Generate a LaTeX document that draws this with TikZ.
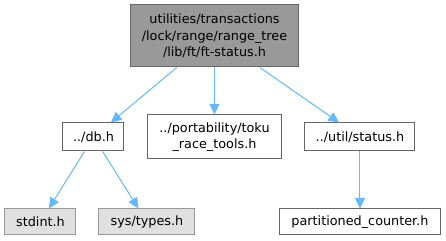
\documentclass[tikz,border=0pt]{standalone}
\usepackage{fontspec}
\setmainfont{DejaVu Sans}
\usetikzlibrary{positioning}
\usetikzlibrary{arrows.meta}
\definecolor{edgeblue}{HTML}{63B8FF}
\tikzset{file node/.style={rectangle,draw=black!60,fill=white,line width=0.75pt,inner sep=0pt,align=center,font=\fontsize{9.6pt}{12.4pt}\selectfont},}
\tikzset{main node/.style={file node,fill=black!40,draw=black!60},}
\tikzset{system node/.style={file node,fill=black!12,draw=black!40},}

\begin{document}
\begin{tikzpicture}[on grid]
     \useasboundingbox (-160.875pt,27pt) rectangle (173.625pt,-153.75pt);
     \node[main node,minimum width=125.25pt,minimum height=46.5pt] (ftstatus) {utilities/transactions\\/lock/range/range\_tree\\/lib/ft/ft-status.h};
     \node[file node,minimum width=45.75pt,minimum height=21pt] (db) [below left = 75.75pt and 90.75pt of ftstatus] {../db.h};
     \node[file node,minimum width=100.5pt,minimum height=33pt] (racetools) [below = 75.75pt of ftstatus] {../portability/toku\\\_race\_tools.h};
     \node[file node,minimum width=82.5pt,minimum height=21pt] (status) [below right = 75.75pt and 109.1pt of ftstatus] {../util/status.h};
     \node[system node,minimum width=53.25pt,minimum height=19.5pt] (stdint) [below left = 63.75pt and 39.75pt of db] {stdint.h};
     \node[system node,minimum width=72pt,minimum height=19.5pt] (systypes) [below right = 63.75pt and 40.1pt of db] {sys/types.h};
     \node[file node,minimum width=120.75pt,minimum height=19.5pt] (counter) [below = 63.75pt of status] {partitioned\_counter.h};

     \path[-{Triangle[length=8pt,width=7.5pt]},line width=0.75pt,color=edgeblue]
     (ftstatus) edge (db)
     (ftstatus) edge (racetools)
     (ftstatus) edge (status)
     (db) edge (stdint)
     (db) edge (systypes)
     (status) edge (counter);
  \end{tikzpicture}
\end{document}
